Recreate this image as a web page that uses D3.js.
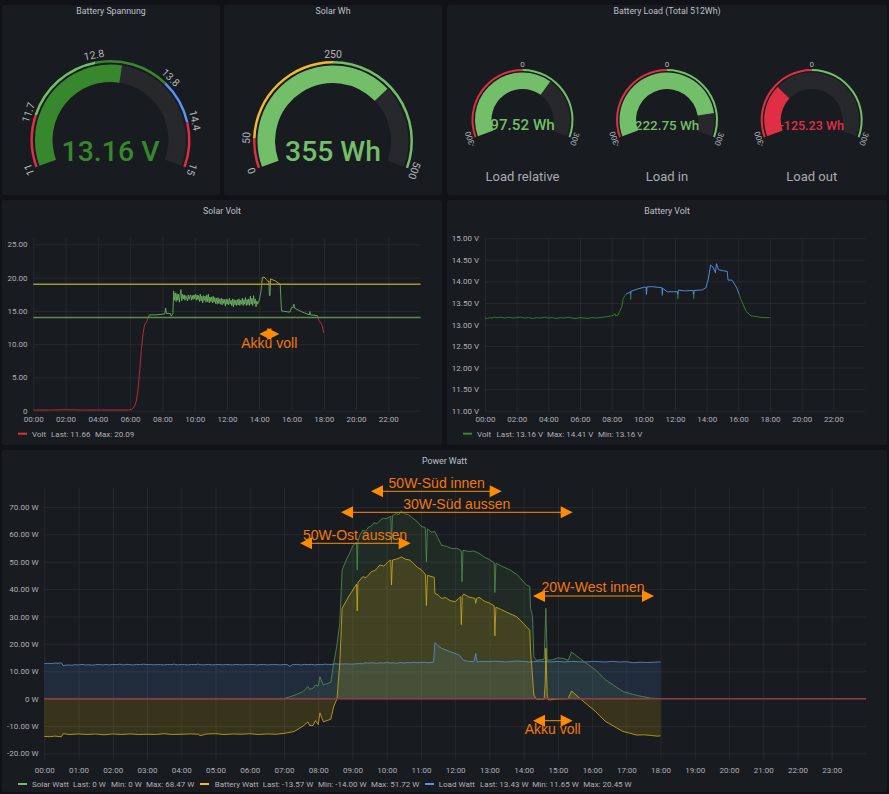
<!DOCTYPE html>
<html>
<head>
<meta charset="utf-8">
<script src="https://cdn.jsdelivr.net/npm/d3@7"></script>
<style>
  html,body{margin:0;padding:0;background:#111217;}
  svg{display:block;font-family:Roboto,sans-serif;}
  .ptitle{fill:#bfc0c9;font-size:8.8px;text-anchor:middle;}
  .axis text{fill:#b0b1ba;font-size:8px;font-family:Roboto,sans-serif;}
  .axis line{stroke:#2a2d32;stroke-width:.8;}
  .axis path{display:none;}
  .leg{fill:#b0b1ba;font-size:8px;}
  .note{fill:#f2770c;font-size:14px;font-family:"Liberation Sans",Arial,sans-serif;text-anchor:middle;}
</style>
</head>
<body>
<svg id="dash" width="889" height="794"></svg>
<script>
// gauges
const batteryGaugeSteps = [11, 11.7, 12.8, 13.8, 14.4, 15];
const batteryGaugeLabels = ['11', '11.7', '12.8', '13.8', '14.4', '15'];
const batteryGaugeColors = ['#e02f44', '#73bf69', '#37872d', '#5794f2', '#e02f44'];
const batteryGaugeValue = 13.16;
const solarGaugeSteps = [0, 50, 250, 500];
const solarGaugeLabels = ['0', '50', '250', '500'];
const solarGaugeColors = ['#e02f44', '#f2b92c', '#73bf69'];
const solarGaugeValue = 355;
const loadSteps = [-300, 0, 300];
const loadLabels = ['-300', '0', '300'];
const loadColors = ['#e02f44', '#73bf69'];
const loadNames = ['Load relative', 'Load in', 'Load out'];
const loadValues = [97.52, 222.75, -125.23];

// Solar Volt [hour, volt]
const solarVolt = [[0,.1],[1,.1],[2,.15],[3,.1],[4,.1],[5,.1],[5.9,.1],[6.1,.2],[6.2,.45],[6.3,.8],[6.4,1.6],[6.5,3.4],[6.6,6.2],[6.7,9.2],[6.8,11.6],[6.9,13],[7,13.2],[7.1,13.9],[7.2,14.4],[7.6,14.4],[8,14.5],[8.15,14.55],[8.2,15.4],[8.25,14.6],[8.5,14.6],[8.55,14.2],[8.65,14.6],[8.7,18],
[8.75,16.6],[8.8,17.7],[8.85,16.4],[8.9,17.6],[8.95,16.6],[9,17.5],[9.05,16.3],[9.1,17.4],[9.15,18.2],[9.2,16.5],[9.25,17.5],[9.3,16.8],[9.35,17.4],[9.4,16.6],[9.45,17.3],[9.5,16.9],[9.55,16.5],[9.6,17.4],[9.65,16.7],[9.7,17.2],[9.75,17.4],[9.8,16.6],[9.85,17.3],[9.9,16.7],[9.95,17.4],[10,16.8],[10.05,17.5],[10.1,16.6],[10.15,17.4],[10.2,16.7],[10.25,17.3],[10.3,16.4],[10.35,17.5],[10.4,16.5],[10.45,17.2],[10.5,16.2],[10.55,17.3],[10.6,16.6],[10.65,17.2],[10.7,16.3],[10.75,17.4],[10.8,16.4],[10.85,17.5],[10.9,16.2],[10.95,17.1],[11,16.4],[11.05,17.1],[11.1,16.2],[11.15,17.2],[11.2,16.3],[11.25,17],[11.3,16.1],[11.35,16.9],[11.4,16],[11.45,17],[11.5,16.1],[11.55,16.8],[11.6,16],[11.65,16.9],[11.7,15.9],[11.75,16.8],[11.8,16.1],[11.85,16.7],[11.9,15.7],[11.95,16.8],[12,16],[12.05,16.7],[12.1,15.9],[12.15,16.9],[12.2,16],[12.25,16.6],[12.3,15.8],[12.35,16.8],[12.4,15.6],[12.45,16.7],[12.5,15.9],[12.55,16.6],[12.6,15.8],[12.65,16.7],[12.7,15.9],[12.75,16.8],[12.8,15.8],[12.85,16.6],[12.9,16],[12.95,16.9],[13,15.8],[13.05,16.7],[13.1,16],[13.15,17],[13.2,15.8],[13.25,16.7],[13.3,15.9],[13.35,16.8],[13.4,15.8],[13.45,17.2],[13.5,16],[13.55,16.9],[13.6,15.8],[13.65,17.3],[13.7,16.1],[13.75,16.8],[13.8,15.6],[13.85,16.5],[13.9,16],[14,16.6],[14.1,17.8],[14.2,20],[14.3,20.09],[14.45,19.7],[14.55,19.4],[14.6,19.5],[14.63,17.3],[14.67,17.3],[14.7,19.8],[15,19.5],[15.3,19],[15.38,15],[15.9,14.8],[16,15.5],[16.1,15.5],[16.15,16],[16.2,15.4],[16.6,14.9],[17.1,14.4],[17.14,14.9],[17.18,14.4],[17.6,14.3],[17.7,13.6],[17.9,12.8],[18,11.66]];
const solarLimits = [14, 19];

// Battery Volt [hour, volt]
const batteryVolt = [[0,13.15],[.15,13.14],[.3,13.16],[.45,13.15],[.6,13.17],[.8,13.16],[1,13.17],[1.25,13.15],[1.5,13.17],[1.75,13.15],[2,13.16],[2.25,13.17],[2.5,13.15],[2.75,13.16],[3,13.14],[3.25,13.16],[3.5,13.15],[3.75,13.17],[4,13.15],[4.25,13.16],[4.5,13.14],[4.75,13.16],[5,13.15],[5.25,13.17],[5.5,13.15],[5.75,13.14],[6,13.16],[6.25,13.15],[6.5,13.14],[6.75,13.16],[7,13.15],[7.5,13.17],[8,13.2],[8.15,13.22],[8.2,13.25],[8.25,13.2],[8.4,13.22],[8.5,13.3],[8.65,13.42],[8.72,13.6],[8.9,13.7],[9.18,13.76],[9.2,13.58],[9.22,13.77],[9.6,13.82],[10,13.86],[10.17,13.87],[10.2,13.69],[10.23,13.87],[10.5,13.88],[11,13.86],[11.18,13.85],[11.2,13.67],[11.22,13.84],[11.5,13.76],[12.15,13.76],[12.18,13.6],[12.21,13.8],[12.6,13.78],[13.15,13.79],[13.18,13.6],[13.21,13.79],[13.7,13.8],[13.95,13.85],[14.1,14.05],[14.25,14.38],[14.4,14.33],[14.55,14.2],[14.62,14.41],[14.75,14.27],[15,14.25],[15.3,14.23],[15.35,14.03],[15.6,14.03],[15.9,13.85],[16.2,13.55],[16.5,13.3],[16.8,13.2],[17.2,13.18],[17.5,13.16],[18,13.16]];
const batteryLimit = 13.7;

// Power Watt [hour, watt]
const solarWatt = [[0,0],[7,0],[7.3,1.2],[7.56,2.6],[7.7,4.4],[7.75,3.4],[7.85,3.8],[7.92,5],[8,4.6],[8.05,8],[8.15,5],[8.37,6],[8.42,10.5],[8.54,19],[8.63,27.5],[8.7,47],[8.83,51],[8.92,53.2],[9.02,56],[9.12,57],[9.14,47],[9.16,57.5],[9.22,59.8],[9.3,61.5],[9.38,61.1],[9.47,62.6],[9.55,63],[9.63,64.2],[9.72,63.9],[9.8,65],[9.9,65.9],[10,65.7],[10.12,66.6],[10.14,57],[10.17,66.8],[10.28,67.6],[10.35,67.2],[10.43,68.47],[10.52,67.5],[10.63,67.2],[10.77,65.8],[10.88,64.8],[11,63],[11.13,62.4],[11.16,50],[11.19,62],[11.3,60.8],[11.41,61],[11.5,58.6],[11.6,56],[11.75,55.6],[11.9,54.8],[12.05,54.9],[12.18,54],[12.2,42.7],[12.23,54.2],[12.4,53.7],[12.55,53.9],[12.7,53],[12.85,51.7],[13,50.8],[13.14,49.6],[13.16,38.7],[13.19,49.4],[13.35,48.4],[13.6,47],[13.8,45.4],[14.08,41.5],[14.18,41],[14.2,33],[14.26,30],[14.3,15.3],[14.37,14],[14.6,14.4],[14.65,33],[14.69,14],[14.85,14.2],[15,14.9],[15.15,14.7],[15.3,14],[15.4,17],[15.64,14.7],[16.1,10.5],[16.4,6.8],[16.9,2.6],[17.3,1.2],[17.7,.2],[18,0]];
const batteryWatt = [[0,-13.8],[.15,-13.9],[.3,-13.7],[.5,-13.9],[.55,-12.8],[.75,-13.1],[1,-12.9],[1.25,-13.1],[1.5,-12.9],[1.75,-13.2],[2,-12.9],[2.25,-13.1],[2.5,-12.9],[2.75,-13.1],[3,-13],[3.25,-13.1],[3.5,-12.8],[3.75,-13.1],[4,-13],[4.25,-12.9],[4.5,-13],[4.55,-13.5],[4.75,-12.9],[5,-12.8],[5.25,-13.1],[5.5,-12.9],[5.75,-13],[6,-12.8],[6.25,-13.1],[6.5,-12.9],[6.75,-13],[7,-12.7],[7.3,-12],[7.56,-10],[7.7,-8.5],[7.75,-9.8],[7.85,-9.8],[7.92,-8],[8,-9.5],[8.05,-5.2],[8.15,-8.5],[8.37,-7.5],[8.45,-3],[8.55,0],[8.63,13],[8.7,33],[8.9,37.5],[9.12,41.8],[9.14,32],[9.16,42.4],[9.3,44.5],[9.4,44.2],[9.55,46.3],[9.68,47],[9.8,48.8],[9.92,48.4],[10.05,50.1],[10.12,50.6],[10.14,41.5],[10.17,50.6],[10.3,51],[10.43,51.72],[10.55,50.9],[10.68,50.6],[10.77,49.4],[10.9,47.9],[11,47.2],[11.13,45.4],[11.16,34],[11.19,45],[11.39,44.3],[11.41,38.4],[11.5,37.9],[11.6,36.6],[11.72,36.9],[11.85,35.8],[12,35.4],[12.16,37.2],[12.18,27],[12.21,37.4],[12.25,38.2],[12.4,37.1],[12.58,36.6],[12.6,34.8],[12.63,36.6],[12.7,37],[12.85,35.6],[13,34.9],[13.14,33.9],[13.16,22.9],[13.19,33.4],[13.35,32.5],[13.6,31],[13.8,29.9],[14.08,26.3],[14.18,25],[14.2,17.8],[14.26,8],[14.3,1.3],[14.37,-.2],[14.6,-.2],[14.63,5.6],[14.65,18.4],[14.69,.8],[14.73,-.5],[15,-.1],[15.3,0],[15.4,2.8],[15.64,.1],[16.1,-4.7],[16.4,-8.4],[16.9,-12],[17.1,-12.6],[17.3,-13.3],[17.5,-13.2],[17.7,-13.4],[17.9,-13.7],[18,-13.57]];
const loadWatt = [[0,12.8],[.1,12.9],[.2,12.8],[.3,13],[.4,12.9],[.5,13.1],[.55,12.1],[.7,12.3],[.8,12.2],[.9,12.4],[1,12.3],[1.1,12.5],[1.2,12.3],[1.3,12.4],[1.4,12.2],[1.5,12.4],[1.6,12.5],[1.7,12.3],[1.8,12.5],[1.9,12.3],[2,12.5],[2.1,12.4],[2.2,12.6],[2.3,12.3],[2.4,12.5],[2.5,12.4],[2.6,12.3],[2.7,12.5],[2.8,12.4],[2.9,12.6],[3,12.4],[3.1,12.5],[3.2,12.3],[3.3,12.5],[3.4,12.4],[3.5,12.3],[3.6,12.5],[3.7,12.4],[3.8,12.6],[3.9,12.3],[4,12.5],[4.1,12.4],[4.2,12.3],[4.3,12.5],[4.4,12.4],[4.5,12.6],[4.6,12.3],[4.7,12.4],[4.8,12.5],[4.9,12.3],[5,12.4],[5.1,12.5],[5.2,12.3],[5.3,12.5],[5.4,12.4],[5.5,12.3],[5.6,12.5],[5.7,12.4],[5.8,12.3],[5.9,12.5],[6,12.4],[6.1,12.5],[6.2,12.3],[6.3,12.4],[6.4,12.5],[6.5,12.3],[6.6,12.4],[6.7,12.5],[6.8,12.4],[6.9,12.3],[7,12.5],[7.1,12.4],[7.17,11.8],[7.25,12.4],[7.4,12.5],[7.5,12.3],[7.6,12.5],[7.7,12.4],[7.8,12.5],[7.9,12.3],[8,12.5],[8.1,12.4],[8.2,12.6],[8.3,12.5],[8.4,12.5],[8.5,12.7],[8.6,12.6],[8.8,12.7],[9,12.6],[9.2,12.8],[9.32,12.7],[9.35,13.1],[9.5,13],[9.6,13.1],[9.7,12.9],[9.8,13.1],[9.9,13],[10,13.2],[10.1,13],[10.2,13.1],[10.3,12.9],[10.4,13.2],[10.5,13],[10.6,13.2],[10.7,13.1],[10.8,13.3],[10.9,13.1],[11,13.2],[11.1,13.3],[11.2,13.1],[11.37,13.3],[11.41,20.45],[11.5,19.3],[11.6,18.4],[11.8,17.4],[12,16.5],[12.12,15.9],[12.25,13.9],[12.4,13.6],[12.55,13.5],[12.6,16.5],[12.64,13.4],[12.8,13.6],[13,13.5],[13.15,13.7],[13.3,13.6],[13.45,13.4],[13.6,13.5],[13.8,13.7],[14,13.6],[14.15,13.4],[14.3,13.5],[14.45,13.7],[14.6,13.5],[14.8,13.4],[15,13.6],[15.2,13.4],[15.4,13.6],[15.6,13.5],[15.8,13.4],[16,13.6],[16.2,13.5],[16.4,13.4],[16.6,13.6],[16.8,13.4],[17,13.5],[17.2,13.1],[17.4,13.3],[17.6,13.2],[17.8,13.3],[18,13.43]];
const zeroLine = [[0,0],[24,0]];

const hours24 = d3.range(0, 24);
const hoursEven = d3.range(0, 24, 2);
const solarVoltTicks = [0, 5, 10, 15, 20, 25];
const batteryVoltTicks = [11, 11.5, 12, 12.5, 13, 13.5, 14, 14.5, 15];
const powerTicks = [-20, -10, 0, 10, 20, 30, 40, 50, 60, 70];

const svg = d3.select('#dash');
const hh = h => String(h).padStart(2, '0') + ':00';

// panels
function panel(x, y, w, h, title, ty){
  svg.append('rect').attr('x',x).attr('y',y).attr('width',w).attr('height',h).attr('rx',2).attr('fill','#181b1f');
  svg.append('text').attr('class','ptitle').attr('x',x+w/2).attr('y',ty).text(title);
}
panel(2,5,218,190,'Battery Spannung',13.5);
panel(224,5,218,190,'Solar Wh',13.5);
panel(447,5,440,190,'Battery Load (Total 512Wh)',13.5);
panel(2,200,440,245,'Solar Volt',214);
panel(447,200,440,245,'Battery Volt',214);
panel(2,450,885,342,'Power Watt',464);

// gauge
function gauge(g){
  const ang = d3.scaleLinear().domain([g.steps[0], g.steps[g.steps.length-1]]).range([-110,110]);
  const rad = v => ang(v)*Math.PI/180;
  const a = d3.arc();
  const root = svg.append('g').attr('transform',`translate(${g.cx},${g.cy})`);
  // track + value
  root.append('path').attr('fill','#26282c').attr('d',a({innerRadius:g.r1,outerRadius:g.r2,startAngle:rad(g.steps[0]),endAngle:rad(g.steps[g.steps.length-1])}));
  const k = d3.bisectRight(g.steps, g.value)-1;
  root.append('path').attr('fill',g.colors[k]).attr('d',a({innerRadius:g.r1,outerRadius:g.r2,startAngle:rad(g.steps[0]),endAngle:rad(g.value)}));
  // threshold ring
  g.colors.forEach((c,i)=>{
    root.append('path').attr('fill',c).attr('d',a({innerRadius:g.r3,outerRadius:g.r4,startAngle:rad(g.steps[i]),endAngle:rad(g.steps[i+1])}));
  });
  g.steps.forEach((s,i)=>{
    root.append('text').attr('transform',`rotate(${ang(s)}) translate(0,${-g.r4-g.tickGap})`)
      .attr('text-anchor','middle').attr('fill','#b4b5bc').style('font-size',g.tickSize+'px').text(g.labels[i]);
  });
  const val = root.append('text').attr('y',g.textY).attr('text-anchor','middle').attr('fill',g.colors[k])
    .style('font-size',g.valueSize+'px').style('font-weight',500).text(g.text);
  // value text is scaled to a fixed width, like the panel does
  if(g.fit) val.style('font-size',g.valueSize*g.fit/val.node().getComputedTextLength()+'px');
  if(g.name) root.append('text').attr('y',g.nameY).attr('text-anchor','middle').attr('fill','#a9aab3').style('font-size','13px').text(g.name);
}
gauge({cx:110.5,cy:140,r1:58,r2:75.5,r3:77.5,r4:80,steps:batteryGaugeSteps,labels:batteryGaugeLabels,colors:batteryGaugeColors,value:batteryGaugeValue,text:'13.16 V',valueSize:29,fit:98,textY:20.5,tickSize:10.5,tickGap:3});
gauge({cx:333,cy:141,r1:58,r2:75.5,r3:77.5,r4:80,steps:solarGaugeSteps,labels:solarGaugeLabels,colors:solarGaugeColors,value:solarGaugeValue,text:'355 Wh',valueSize:29,fit:96,textY:20,tickSize:10.5,tickGap:3});
[522.5,667,811.7].forEach((cx,i)=>{
  const v = loadValues[i];
  gauge({cx:cx,cy:120,r1:31,r2:47.5,r3:49,r4:51,steps:loadSteps,labels:loadLabels,colors:loadColors,value:v,text:v.toFixed(2)+' Wh',valueSize:15,fit:64.5,textY:10,tickSize:8,tickGap:2,name:loadNames[i],nameY:60.5});
});

// chart frame with axes
function frame(o){
  const x = d3.scaleLinear().domain([0,24]).range(o.xr);
  const y = d3.scaleLinear().domain(o.yd).range(o.yr);
  const g = svg.append('g');
  g.append('g').attr('class','axis').attr('transform',`translate(0,${o.yr[0]})`)
    .call(d3.axisBottom(x).tickValues(o.xticks).tickFormat(hh).tickSize(o.yr[1]-o.yr[0]).tickPadding(o.yr[0]-o.yr[1]+6))
    .selectAll('text').attr('y',o.xLabelDy).attr('dy',0);
  g.append('g').attr('class','axis').attr('transform',`translate(${o.xr[0]},0)`)
    .call(d3.axisLeft(y).tickValues(o.yticks).tickFormat(o.yfmt).tickSize(o.xr[0]-o.xr[1]).tickPadding(0))
    .selectAll('text').attr('x',o.yLabelX-o.xr[0]);
  return {x,y,g};
}
function lineOf(f){ return d3.line().x(d=>f.x(d[0])).y(d=>f.y(d[1])); }

// coloured line, split by value bands
let clipN = 0;
function bandLine(f, data, limits, colors, width){
  const edges = [f.y.domain()[0]-5, ...limits, f.y.domain()[1]+5];
  colors.forEach((c,i)=>{
    const id = 'band'+(clipN++);
    svg.append('clipPath').attr('id',id).append('rect')
      .attr('x',f.x(0)).attr('width',f.x(24)-f.x(0))
      .attr('y',f.y(edges[i+1])).attr('height',f.y(edges[i])-f.y(edges[i+1]));
    f.g.append('path').datum(data).attr('clip-path',`url(#${id})`)
      .attr('fill','none').attr('stroke',c).attr('stroke-width',width).attr('d',lineOf(f));
  });
}

function legend(x, y, color, items){
  svg.append('rect').attr('x',x[0]).attr('y',y-1).attr('width',9).attr('height',2).attr('fill',color);
  items.forEach((t,i)=>svg.append('text').attr('class','leg').attr('x',x[i+1]).attr('y',y+3).text(t));
}

// Solar Volt
const fSolar = frame({xr:[33.3,420.6],yr:[410.7,238],yd:[0,25.95],xticks:hoursEven,yticks:solarVoltTicks,
  yfmt:v=>v===0?'0':v.toFixed(2),xLabelDy:11.5,yLabelX:27.5});
bandLine(fSolar, solarVolt, solarLimits, ['#e02f44','#73bf69','#d6c22a'], .8);
solarLimits.forEach((v,i)=>{
  fSolar.g.append('path').datum([[0,v],[24,v]]).attr('fill','none')
    .attr('stroke',i?'#a6992a':'#5f8a4f').attr('stroke-width',1.5).attr('d',lineOf(fSolar));
});
legend([18,32,51,95],433.7,'#e02f44',['Volt','Last: 11.66','Max: 20.09']);

// Battery Volt
const fBatt = frame({xr:[485,865],yr:[410.7,238.3],yd:[11,15],xticks:hoursEven,yticks:batteryVoltTicks,
  yfmt:v=>v.toFixed(2)+' V',xLabelDy:11.5,yLabelX:479});
bandLine(fBatt, batteryVolt, [batteryLimit], ['#37872d','#5794f2'], .9);
legend([463,477,496.5,547,598],433.7,'#37872d',['Volt','Last: 13.16 V','Max: 14.41 V','Min: 13.16 V']);

// Power Watt
const fPower = frame({xr:[44.3,866],yr:[760,488],yd:[-22.4,76.9],xticks:hours24,yticks:powerTicks,
  yfmt:v=>v===0?'0 W':v.toFixed(2)+' W',xLabelDy:13,yLabelX:38.5});
const area0 = d3.area().x(d=>fPower.x(d[0])).y0(fPower.y(0)).y1(d=>fPower.y(d[1]));
[[loadWatt,'#5794f2',.14],[solarWatt,'#73bf69',.1],[batteryWatt,'#f2cc0c',.15]].forEach(([d,c,op])=>{
  fPower.g.append('path').datum(d).attr('fill',c).attr('fill-opacity',op).attr('d',area0);
});
[[loadWatt,'#5f8ed6'],[solarWatt,'#578f52'],[batteryWatt,'#d0ad1c']].forEach(([d,c])=>{
  fPower.g.append('path').datum(d).attr('fill','none').attr('stroke',c).attr('stroke-width',.8).attr('d',lineOf(fPower));
});
fPower.g.append('path').datum(zeroLine).attr('fill','none').attr('stroke','#8f3d48').attr('stroke-width',1.5).attr('d',lineOf(fPower));
legend([18,32,73,111,146],784,'#73bf69',['Solar Watt','Last: 0 W','Min: 0 W','Max: 68.47 W']);
legend([200,214.7,262.7,318,371],784,'#f2b92c',['Battery Watt','Last: -13.57 W','Min: -14.00 W','Max: 51.72 W']);
legend([425,438.7,480,532.3,583.3],784,'#5794f2',['Load Watt','Last: 13.43 W','Min: 11.65 W','Max: 20.45 W']);

// hand drawn annotations
function arrow(x1, x2, y){
  const c = '#ff8c00', hl = 12, hw = 6;
  svg.append('line').attr('x1',x1+hl-1).attr('x2',x2-hl+1).attr('y1',y).attr('y2',y).attr('stroke',c).attr('stroke-width',1);
  svg.append('path').attr('fill',c).attr('d',`M${x1},${y}L${x1+hl},${y-hw}V${y+hw}Z`);
  svg.append('path').attr('fill',c).attr('d',`M${x2},${y}L${x2-hl},${y-hw}V${y+hw}Z`);
}
function note(text, cx, by){ svg.append('text').attr('class','note').attr('x',cx).attr('y',by).text(text); }
arrow(371,501.7,491.3); note('50W-Süd innen',436.7,488);
arrow(341,572.7,512.3); note('30W-Süd aussen',456.7,509);
arrow(300,410.7,543.3); note('50W-Ost aussen',355,540);
arrow(533,654,596);     note('20W-West innen',593,592);
arrow(533,572.7,720.7); note('Akku voll',552.7,734);
arrow(259.3,279.3,334); note('Akku voll',269.3,347.5);
</script>
</body>
</html>
